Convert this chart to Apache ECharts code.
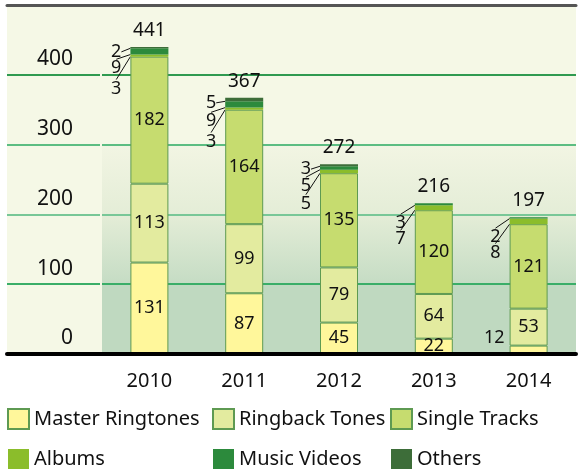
<!DOCTYPE html>
<html>
<head>
<meta charset="utf-8">
<script src="https://cdn.jsdelivr.net/npm/echarts@6/dist/echarts.min.js"></script>
<style>
  html, body { margin: 0; padding: 0; background: #fff; }
  #chart { width: 580px; height: 470px; }
</style>
</head>
<body>
<div id="chart"></div>
<script>
// values (millions of units)
const years = ['2010', '2011', '2012', '2013', '2014']
const masterRingtones = [131, 87, 45, 22, 12]
const ringbackTones = [113, 99, 79, 64, 53]
const singleTracks = [182, 164, 135, 120, 121]
const albums = [3, 3, 5, 7, 8]
const musicVideos = [9, 9, 5, 3, 2]
const others = [2, 5, 3, 0, 0]
const totals = [441, 367, 272, 216, 197]
const yMin = 0
const yMax = 500
const yStep = 100

const font = '"Noto Sans", "Open Sans", sans-serif'
const gridLineColors = ['transparent', '#3aae68', '#78c797', '#5cbd82', '#2f9a50', 'transparent']
const barBorder = '#5e9a52'

const chart = echarts.init(document.getElementById('chart'))

// big segments: value written inside, tiny ones pulled out to the left
function bigSeries(name, values, color) {
  return {
    name: name,
    type: 'bar',
    stack: 'total',
    xAxisIndex: 1,
    yAxisIndex: 1,
    barWidth: 38,
    itemStyle: { color: color, borderColor: barBorder, borderWidth: 1 },
    label: { show: true, position: 'inside', fontSize: 18, fontFamily: font, color: '#111' },
    data: values.map(v => v < 15 ? {
      value: v,
      label: { position: 'left', distance: 5, offset: [0, -12] },
      labelLine: { show: true, lineStyle: { color: '#111', width: 1 } }
    } : v)
  }
}

// thin segments on top: labels stacked to the left with leader lines
function smallSeries(name, values, color, dy) {
  return {
    name: name,
    type: 'bar',
    stack: 'total',
    xAxisIndex: 1,
    yAxisIndex: 1,
    barWidth: 38,
    itemStyle: { color: color, borderColor: color, borderWidth: 0 },
    label: { show: true, fontSize: 18, fontFamily: font, color: '#111' },
    labelLine: { show: true, lineStyle: { color: '#111', width: 1 } },
    labelLayout: p => ({ x: p.rect.x - 9, y: p.rect.y + dy, align: 'right', verticalAlign: 'middle' }),
    data: values.map(v => v === 0 ? { value: 0, label: { show: false }, labelLine: { show: false } } : v)
  }
}

// 0-100 solid, 100-300 fading, upper bands left to the grid background
const bandColors = [
  '#bfd9c0',
  new echarts.graphic.LinearGradient(0, 0, 0, 1, [
    { offset: 0, color: '#e4edd7' }, { offset: 1, color: '#c5dcc4' }
  ]),
  new echarts.graphic.LinearGradient(0, 0, 0, 1, [
    { offset: 0, color: '#f2f5e3' }, { offset: 1, color: '#e4edd7' }
  ]),
  'transparent',
  'transparent'
]

const option = {
  animation: false,
  textStyle: { fontFamily: font },
  grid: [
    // full width: background, base line, top rule
    { left: 7, right: 4, top: 5, bottom: 116, show: true, backgroundColor: '#f5f8e6', borderWidth: 0 },
    // bars
    { left: 102, right: 4, top: 5, bottom: 116 },
    // gridlines under the axis labels
    { left: 7, width: 93, top: 5, bottom: 116 }
  ],
  xAxis: [
    {
      gridIndex: 0, type: 'category', data: years, z: 5,
      axisLine: { lineStyle: { color: '#000', width: 4 } },
      axisTick: { show: false }, axisLabel: { show: false }
    },
    {
      gridIndex: 1, type: 'category', data: years,
      axisLine: { show: false }, axisTick: { show: false },
      axisLabel: { fontSize: 20, color: '#111', margin: 17, fontFamily: font }
    },
    { gridIndex: 2, type: 'category', data: years, show: false },
    {
      gridIndex: 0, type: 'category', data: years, position: 'top', z: 5,
      axisLine: { lineStyle: { color: '#555', width: 3 } },
      axisTick: { show: false }, axisLabel: { show: false }
    }
  ],
  yAxis: [
    {
      gridIndex: 0, type: 'value', min: yMin, max: yMax, interval: yStep,
      axisLabel: { show: false }, splitLine: { show: false }
    },
    {
      gridIndex: 1, type: 'value', min: yMin, max: yMax, interval: yStep,
      axisLine: { show: false }, axisTick: { show: false },
      axisLabel: {
        fontSize: 21, color: '#111', margin: 29, fontFamily: font,
        verticalAlign: 'bottom', padding: [0, 0, 5, 0], showMaxLabel: false
      },
      splitLine: { lineStyle: { color: gridLineColors, width: 2 } },
      splitArea: { show: true, areaStyle: { color: bandColors } }
    },
    {
      gridIndex: 2, type: 'value', min: yMin, max: yMax, interval: yStep,
      axisLabel: { show: false }, axisLine: { show: false }, axisTick: { show: false },
      splitLine: { lineStyle: { color: gridLineColors, width: 2 } }
    }
  ],
  legend: [
    { data: ['Master Ringtones', 'Albums'], left: 7 },
    { data: ['Ringback Tones', 'Music Videos'], left: 212 },
    { data: ['Single Tracks', 'Others'], left: 390 }
  ].map(l => Object.assign({
    orient: 'vertical',
    top: 408,
    height: 62,
    padding: 0,
    itemWidth: 21,
    itemHeight: 20,
    itemGap: 19,
    icon: 'rect',
    textStyle: { fontSize: 20, lineHeight: 20, color: '#111', fontFamily: font }
  }, l)),
  series: [
    bigSeries('Master Ringtones', masterRingtones, '#fff79b'),
    bigSeries('Ringback Tones', ringbackTones, '#e3eb9f'),
    bigSeries('Single Tracks', singleTracks, '#c6dc6f'),
    smallSeries('Albums', albums, '#8bbd2b', 34),
    smallSeries('Music Videos', musicVideos, '#2c8a3c', 20),
    smallSeries('Others', others, '#3d6d39', 5),
    {
      name: 'Total',
      type: 'bar',
      stack: 'total',
      xAxisIndex: 1,
      yAxisIndex: 1,
      barWidth: 38,
      itemStyle: { color: 'transparent' },
      label: {
        show: true, position: 'top', distance: 7, fontSize: 19, color: '#111', fontFamily: font,
        formatter: p => totals[p.dataIndex]
      },
      data: years.map(() => 0)
    }
  ]
}

chart.setOption(option)
</script>
</body>
</html>
